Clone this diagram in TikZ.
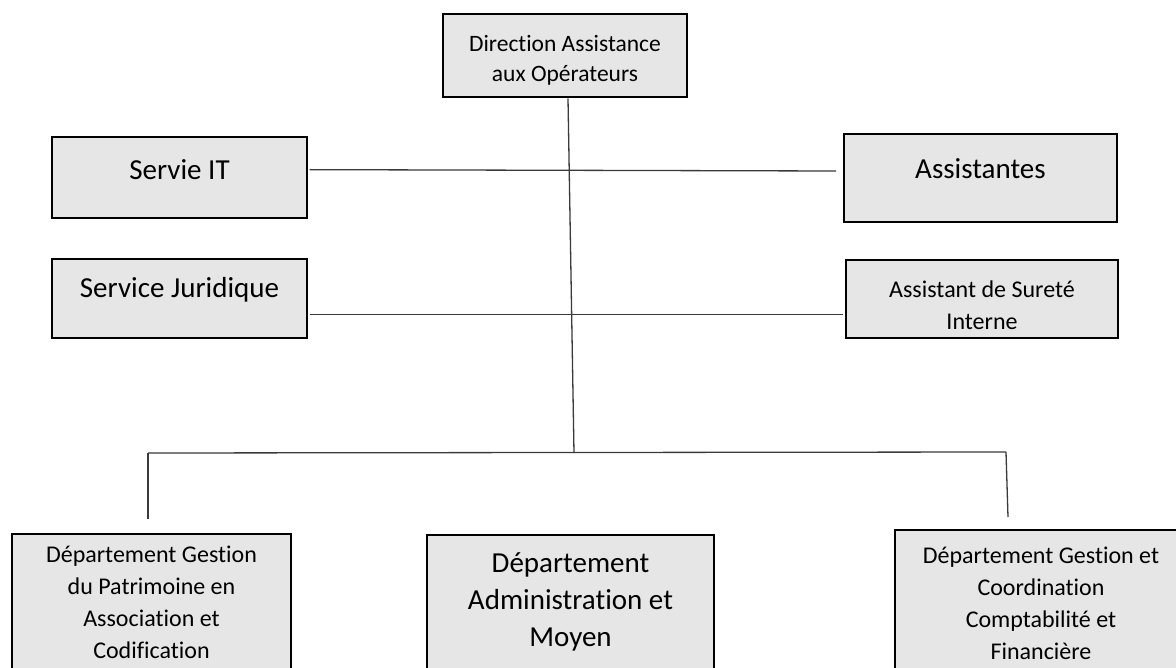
\documentclass[tikz,border=0pt]{standalone}
\usepackage{fontspec}
\setmainfont{Carlito}[Ligatures={NoCommon}]
\usetikzlibrary{calc}
\definecolor{boxgray}{HTML}{E6E6E6}
\definecolor{linegray}{HTML}{3A3A3A}
\begin{document}
\begin{tikzpicture}[x=1pt,y=-1pt,
  box/.style={draw=black,line width=2.7pt,fill=boxgray,inner sep=0pt,minimum width=#1},
  lbl/.style={inner sep=0pt,align=center,text=black},
  bigtxt/.style={font=\fontsize{29}{37}\selectfont},
  smalltxt/.style={font=\fontsize{24}{32}\selectfont},
  toptxt/.style={font=\fontsize{23.5}{30}\selectfont},
  conn/.style={draw=linegray,line width=1.3pt}]
\clip (0,0) rectangle (1176,668);
\fill[white] (0,0) rectangle (1176,668);
% boxes
\node[box=244pt,minimum height=83pt] (dir) at (565,55.5) {};
\node[box=255pt,minimum height=81pt] (it) at (179.5,177.5) {};
\node[box=255pt,minimum height=79pt] (jur) at (179.5,298.5) {};
\node[box=273pt,minimum height=88pt] (ast) at (980.5,178) {};
\node[box=272pt,minimum height=78pt] (sur) at (982,299) {};
\node[box=279pt,minimum height=190pt] (dgp) at (151.5,629) {};
\node[box=287pt,minimum height=190pt] (adm) at (570.5,630) {};
\node[box=292pt,minimum height=190pt] (dgc) at (1041,625) {};
% texts
\node[lbl,toptxt] (dirT) at (565,60) {Direction Assistance\\aux Opérateurs};
\node[lbl,bigtxt] (itT) at (179.5,170) {Servie IT};
\node[lbl,bigtxt] (jurT) at (179.5,290) {Service Juridique};
\node[lbl,bigtxt] (astT) at (980.5,169) {Assistantes};
\node[lbl,smalltxt] (surT) at (982,305) {Assistant de Sureté\\Interne};
\node[lbl,smalltxt] (dgpT) at (151.5,602) {Département Gestion\\du Patrimoine en\\Association et\\Codification};
\node[lbl,smalltxt] (dgcT) at (1041,603) {Département Gestion et\\Coordination\\Comptabilité et\\Financière};
\node[lbl,bigtxt] (admT) at (570.5,602) {Département\\Administration et\\Moyen};
% connector points
\coordinate (jTop) at (574,453);
\coordinate (hL) at (148,453);
\coordinate (hR) at (1006,452);
\coordinate (dL) at (148,519);
\coordinate (dR) at (1008,517);
\coordinate (astIn) at (836,171);
% connectors
\draw[conn] ([xshift=3pt]dir.south) -- (jTop);
\draw[conn] ($(it.north east)+(1.35,34)$) -- (astIn);
\draw[conn] ($(jur.north east)+(1.35,57)$) -- ($(sur.north west)+(-1.35,56)$);
\draw[conn] (hL) -- (hR);
\draw[conn] (hL) -- (dL);
\draw[conn] (hR) -- (dR);
\end{tikzpicture}
\end{document}
